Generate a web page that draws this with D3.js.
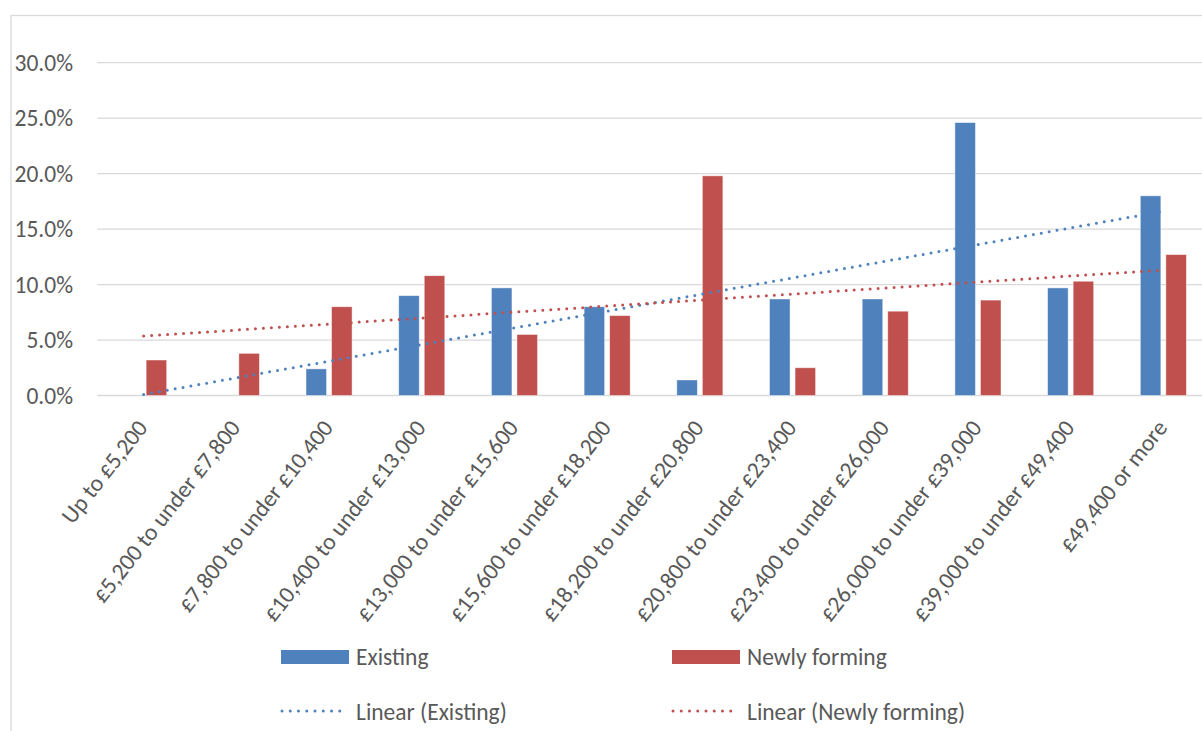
<!DOCTYPE html>
<html>
<head>
<meta charset="utf-8">
<script src="https://cdn.jsdelivr.net/npm/d3@7/dist/d3.min.js"></script>
<style>
  html, body { margin: 0; padding: 0; background: #fff; }
  svg { display: block; }
  text { font-family: Carlito, Calibri, Lato, sans-serif; fill: #595959; }
</style>
</head>
<body>
<svg id="chart" width="1202" height="731"></svg>
<script>
// Household income bands
const categories = [
  "Up to £5,200",
  "£5,200 to under £7,800",
  "£7,800 to under £10,400",
  "£10,400 to under £13,000",
  "£13,000 to under £15,600",
  "£15,600 to under £18,200",
  "£18,200 to under £20,800",
  "£20,800 to under £23,400",
  "£23,400 to under £26,000",
  "£26,000 to under £39,000",
  "£39,000 to under £49,400",
  "£49,400 or more"
];

// Share of households in each band (%)
const existing     = [0.0, 0.0, 2.4, 9.0, 9.7, 8.0, 1.4, 8.7, 8.7, 24.6, 9.7, 18.0];
const newlyForming = [3.2, 3.8, 8.0, 10.8, 5.5, 7.2, 19.8, 2.5, 7.6, 8.6, 10.3, 12.7];

const seriesNames = ["Existing", "Newly forming"];
const trendNames  = ["Linear (Existing)", "Linear (Newly forming)"];
const yTicks = [0, 5, 10, 15, 20, 25, 30];

const colors = { "Existing": "#4F81BD", "Newly forming": "#C0504D" };

const FONT = 23.5;

const svg = d3.select("#chart");
const W = 1202, H = 731;

// Chart frame
svg.append("rect")
  .attr("x", 11).attr("y", 15.5)
  .attr("width", W + 20).attr("height", H + 20)
  .attr("fill", "none").attr("stroke", "#d9d9d9").attr("stroke-width", 1.3);

const plot = { left: 97.3, right: 1209.7, top: 62.7, bottom: 395.5 };

const x = d3.scaleBand().domain(categories).range([plot.left, plot.right]).padding(0);
const y = d3.scaleLinear().domain([0, 30]).range([plot.bottom, plot.top]);

const groupW = x.bandwidth() * 0.497;
const xs = d3.scaleBand().domain(seriesNames).range([-groupW / 2, groupW / 2]).paddingInner(0.196);

// Gridlines
svg.append("g").selectAll("line").data(yTicks).join("line")
  .attr("x1", plot.left).attr("x2", plot.right)
  .attr("y1", d => y(d)).attr("y2", d => y(d))
  .attr("stroke", "#d9d9d9").attr("stroke-width", 1.3);

// Y axis labels
const yAxis = d3.axisLeft(y).tickValues(yTicks).tickFormat(d => d3.format(".1f")(d) + "%").tickSize(0).tickPadding(0);
const yg = svg.append("g").attr("transform", "translate(73,0)").call(yAxis);
yg.select(".domain").remove();
yg.selectAll("text")
  .attr("font-family", "Carlito, Calibri, Lato, sans-serif")
  .attr("font-size", FONT).attr("fill", "#595959");

// Bars
const rows = categories.map((c, i) => ({ cat: c, values: [
  { name: "Existing", v: existing[i] },
  { name: "Newly forming", v: newlyForming[i] }
]}));

const groups = svg.append("g").selectAll("g").data(rows).join("g")
  .attr("transform", d => `translate(${x(d.cat) + x.bandwidth() / 2},0)`);

groups.selectAll("rect").data(d => d.values.filter(s => s.v > 0)).join("rect")
  .attr("x", s => xs(s.name))
  .attr("width", xs.bandwidth())
  .attr("y", s => y(s.v))
  .attr("height", s => y(0) - y(s.v))
  .attr("fill", s => colors[s.name])
  .attr("stroke", "#ffffff").attr("stroke-opacity", 0.55).attr("stroke-width", 0.8);

// Linear trendlines (least squares over category index)
function linearFit(vals) {
  const n = vals.length;
  const xsIdx = vals.map((_, i) => i + 1);
  const mx = d3.mean(xsIdx), my = d3.mean(vals);
  let sxy = 0, sxx = 0;
  vals.forEach((v, i) => { sxy += (xsIdx[i] - mx) * (v - my); sxx += (xsIdx[i] - mx) ** 2; });
  const b = sxy / sxx, a = my - b * mx;
  return [ {i: 0, v: a + b * 1}, {i: n - 1, v: a + b * n} ];
}

const line = d3.line()
  .x(p => x(categories[p.i]) + x.bandwidth() / 2)
  .y(p => y(p.v));

[["Existing", existing], ["Newly forming", newlyForming]].forEach(([name, vals]) => {
  svg.append("path")
    .attr("d", line(linearFit(vals)))
    .attr("fill", "none")
    .attr("stroke", colors[name])
    .attr("stroke-width", 3)
    .attr("stroke-linecap", "round")
    .attr("stroke-dasharray", "0 8");
});

// Category labels, rotated
svg.append("g").selectAll("text").data(categories).join("text")
  .attr("transform", c => `translate(${x(c) + x.bandwidth() / 2 + 5},428) rotate(-52)`)
  .attr("text-anchor", "end")
  .attr("font-size", FONT)
  .text(c => c);

// Legend
const legendCols = [281, 672];
seriesNames.forEach((name, i) => {
  const lx = legendCols[i];
  svg.append("rect")
    .attr("x", lx).attr("y", 650).attr("width", 68).attr("height", 14)
    .attr("fill", colors[name]);
  svg.append("text")
    .attr("x", lx + 75).attr("y", 664.5)
    .attr("font-size", FONT)
    .text(name);

  svg.append("line")
    .attr("x1", lx + 1).attr("x2", lx + 67).attr("y1", 711).attr("y2", 711)
    .attr("stroke", colors[name]).attr("stroke-width", 3)
    .attr("stroke-linecap", "round").attr("stroke-dasharray", "0 8.25");
  svg.append("text")
    .attr("x", lx + 75).attr("y", 719.5)
    .attr("font-size", FONT)
    .text(trendNames[i]);
});
</script>
</body>
</html>
